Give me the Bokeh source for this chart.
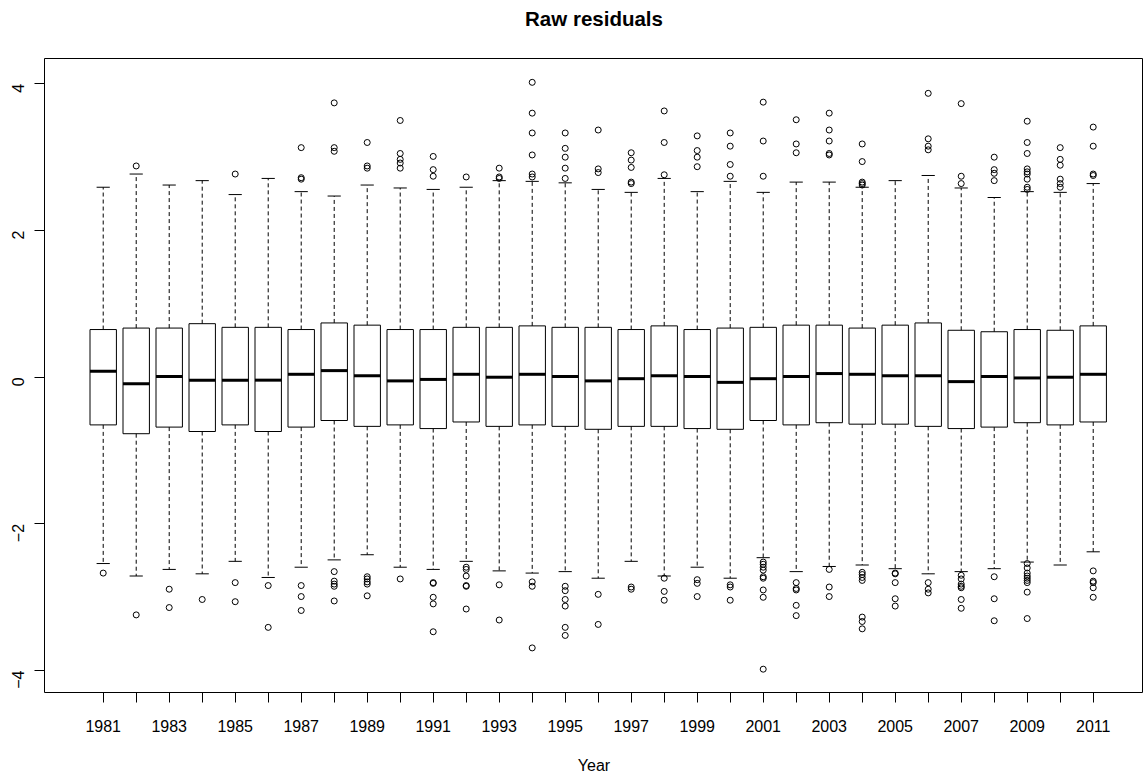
import math
from bokeh.plotting import figure
from bokeh.models import FixedTicker, ColumnDataSource, Range1d, LinearAxis
from bokeh.embed import file_html
from bokeh.resources import INLINE

years = list(range(1981, 2012))

whisk_hi = [2.59, 2.77, 2.62, 2.68, 2.49, 2.71, 2.53, 2.47, 2.62, 2.58,
            2.56, 2.59, 2.68, 2.67, 2.65, 2.56, 2.52, 2.71, 2.53, 2.67,
            2.52, 2.66, 2.66, 2.59, 2.68, 2.75, 2.58, 2.45, 2.53, 2.52, 2.64]
q3 = [0.65, 0.67, 0.67, 0.73, 0.68, 0.68, 0.65, 0.74, 0.71, 0.65,
      0.65, 0.68, 0.68, 0.70, 0.68, 0.68, 0.65, 0.70, 0.65, 0.67,
      0.68, 0.71, 0.71, 0.67, 0.71, 0.74, 0.64, 0.62, 0.65, 0.64, 0.70]
median = [0.08, -0.09, 0.01, -0.04, -0.04, -0.04, 0.04, 0.09, 0.02, -0.05,
          -0.03, 0.04, 0.00, 0.04, 0.01, -0.05, -0.02, 0.02, 0.01, -0.07,
          -0.02, 0.01, 0.05, 0.04, 0.02, 0.02, -0.06, 0.01, -0.01, 0.00, 0.04]
q1 = [-0.65, -0.77, -0.68, -0.74, -0.65, -0.74, -0.68, -0.59, -0.67, -0.65,
      -0.70, -0.61, -0.67, -0.65, -0.67, -0.71, -0.67, -0.67, -0.70, -0.71,
      -0.59, -0.65, -0.62, -0.64, -0.64, -0.67, -0.70, -0.68, -0.62, -0.65, -0.61]
whisk_lo = [-2.54, -2.71, -2.62, -2.68, -2.51, -2.73, -2.59, -2.49, -2.42, -2.59,
            -2.62, -2.51, -2.64, -2.67, -2.65, -2.74, -2.51, -2.71, -2.59, -2.74,
            -2.46, -2.65, -2.58, -2.56, -2.61, -2.68, -2.65, -2.61, -2.52, -2.56, -2.38]

outliers = [
    [-2.67],                                                    # 1981
    [2.88, -3.24],                                              # 1982
    [-2.89, -3.14],                                             # 1983
    [-3.03],                                                    # 1984
    [2.77, -2.80, -3.06],                                       # 1985
    [-2.84, -3.41],                                             # 1986
    [3.13, 2.72, 2.70, -2.84, -2.99, -3.18],                    # 1987
    [3.74, 3.13, 3.08, -2.65, -2.78, -2.82, -2.85, -3.05],      # 1988
    [3.20, 2.88, 2.85, -2.72, -2.75, -2.79, -2.82, -2.98],      # 1989
    [3.50, 3.05, 2.97, 2.92, 2.85, -2.75],                      # 1990
    [3.01, 2.83, 2.74, -2.80, -2.81, -3.00, -3.09, -3.47],      # 1991
    [2.73, -2.59, -2.62, -2.71, -2.84, -2.85, -3.16],           # 1992
    [2.85, 2.73, 2.71, -2.83, -3.31],                           # 1993
    [4.02, 3.60, 3.33, 3.03, 2.77, 2.73, -2.79, -2.85, -3.69],  # 1994
    [3.33, 3.12, 3.00, 2.85, 2.71, -2.85, -2.91, -3.03, -3.12, -3.41, -3.52],  # 1995
    [3.37, 2.84, 2.79, -2.96, -3.37],                           # 1996
    [3.06, 2.96, 2.86, 2.66, 2.64, -2.86, -2.89],               # 1997
    [3.63, 3.20, 2.76, -2.74, -2.92, -3.04],                    # 1998
    [3.29, 3.09, 3.00, 2.87, -2.76, -2.81, -2.99],              # 1999
    [3.33, 3.15, 2.90, 2.74, -2.83, -2.86, -3.04],              # 2000
    [3.75, 3.22, 2.74, -2.52, -2.55, -2.59, -2.63, -2.72, -2.74, -2.90, -3.00, -3.98],  # 2001
    [3.51, 3.18, 3.06, -2.80, -2.88, -2.90, -3.11, -3.25],      # 2002
    [3.60, 3.37, 3.22, 3.05, 3.03, -2.62, -2.86, -2.99],        # 2003
    [3.18, 2.94, 2.66, 2.64, 2.62, -2.66, -2.69, -2.73, -2.77, -3.27, -3.33, -3.43],  # 2004
    [-2.67, -2.68, -2.80, -3.02, -3.12],                        # 2005
    [3.87, 3.25, 3.15, 3.10, -2.80, -2.89, -2.94],              # 2006
    [3.73, 2.74, 2.64, -2.70, -2.75, -2.82, -2.85, -2.87, -3.03, -3.15],  # 2007
    [3.00, 2.83, 2.78, 2.68, -2.72, -3.02, -3.32],              # 2008
    [3.49, 3.20, 3.05, 2.84, 2.80, 2.77, 2.70, 2.59, 2.56,
     -2.54, -2.60, -2.67, -2.71, -2.74, -2.77, -2.80, -2.93, -3.29],  # 2009
    [3.13, 2.97, 2.89, 2.70, 2.64, 2.59],                       # 2010
    [3.41, 3.15, 2.77, 2.75, -2.64, -2.78, -2.80, -2.87, -3.00],  # 2011
]

y_ticks = [-4, -2, 0, 2, 4]
title_text = "Raw residuals"
x_title = "Year"

BOX_HALF = 0.4
STAPLE_HALF = 0.2

src = ColumnDataSource(dict(
    x=years,
    left=[y - BOX_HALF for y in years],
    right=[y + BOX_HALF for y in years],
    sl=[y - STAPLE_HALF for y in years],
    sr=[y + STAPLE_HALF for y in years],
    q1=q1, q3=q3, med=median, lo=whisk_lo, hi=whisk_hi,
))

ox, oy = [], []
for yr, vals in zip(years, outliers):
    for v in vals:
        ox.append(yr)
        oy.append(v)

p = figure(
    frame_width=1099, frame_height=634,
    min_border_left=44, min_border_right=0, min_border_top=58, min_border_bottom=85,
    x_range=Range1d(1979.221, 2012.524), y_range=Range1d(-4.298, 4.345),
    output_backend="svg", toolbar_location=None,
)

p.background_fill_color = "white"
p.border_fill_color = "white"
p.outline_line_color = "black"
p.outline_line_width = 1
p.xgrid.visible = False
p.ygrid.visible = False

xa = p.below[0]
ya = p.left[0]

# main title as a tick-less axis label above the frame
top = LinearAxis(ticker=FixedTicker(ticks=[]), axis_label=title_text)
top.axis_line_color = None
top.major_tick_out = 0
top.major_tick_in = 0
top.minor_tick_out = 0
top.minor_tick_in = 0
top.major_label_standoff = 0
top.major_label_text_font_size = "0px"
top.axis_label_standoff = 29
top.axis_label_text_font = "Liberation Sans"
top.axis_label_text_font_size = "20.5px"
top.axis_label_text_font_style = "bold"
top.axis_label_text_color = "black"
p.add_layout(top, "above")

# whiskers
p.segment(x0="x", y0="q3", x1="x", y1="hi", source=src, line_color="black",
          line_width=1, line_dash="4 3")
p.segment(x0="x", y0="q1", x1="x", y1="lo", source=src, line_color="black",
          line_width=1, line_dash="4 3")
# staples
p.segment(x0="sl", y0="hi", x1="sr", y1="hi", source=src, line_color="black", line_width=1)
p.segment(x0="sl", y0="lo", x1="sr", y1="lo", source=src, line_color="black", line_width=1)
# boxes
p.quad(left="left", right="right", bottom="q1", top="q3", source=src,
       fill_color=None, line_color="black", line_width=1)
# medians
p.segment(x0="left", y0="med", x1="right", y1="med", source=src,
          line_color="black", line_width=3)
# outliers
p.scatter(ox, oy, marker="circle", size=6, fill_color=None,
          line_color="black", line_width=1)

xa.ticker = FixedTicker(ticks=years)
xa.major_label_overrides = {yr: ("" if (yr - 1981) % 2 else str(yr)) for yr in years}
xa.axis_label = x_title
xa.axis_label_text_font = "Liberation Sans"
xa.axis_label_text_font_size = "16px"
xa.axis_label_text_font_style = "normal"
xa.axis_label_text_color = "black"
xa.axis_label_standoff = 22
xa.major_label_text_font = "Liberation Sans"
xa.major_label_text_font_size = "16px"
xa.major_label_text_color = "black"
xa.major_label_standoff = 17
xa.major_tick_out = 10
xa.major_tick_in = 0
xa.minor_tick_out = 0
xa.minor_tick_in = 0
xa.axis_line_color = None
xa.major_tick_line_color = "black"

ya.ticker = FixedTicker(ticks=y_ticks)
ya.major_label_orientation = math.pi / 2
ya.major_label_text_font = "Liberation Sans"
ya.major_label_text_font_size = "16px"
ya.major_label_text_color = "black"
ya.major_label_standoff = 16
ya.major_tick_out = 10
ya.major_tick_in = 0
ya.minor_tick_out = 0
ya.minor_tick_in = 0
ya.axis_line_color = None
ya.major_tick_line_color = "black"

open("out.html", "w").write(file_html(p, INLINE))
